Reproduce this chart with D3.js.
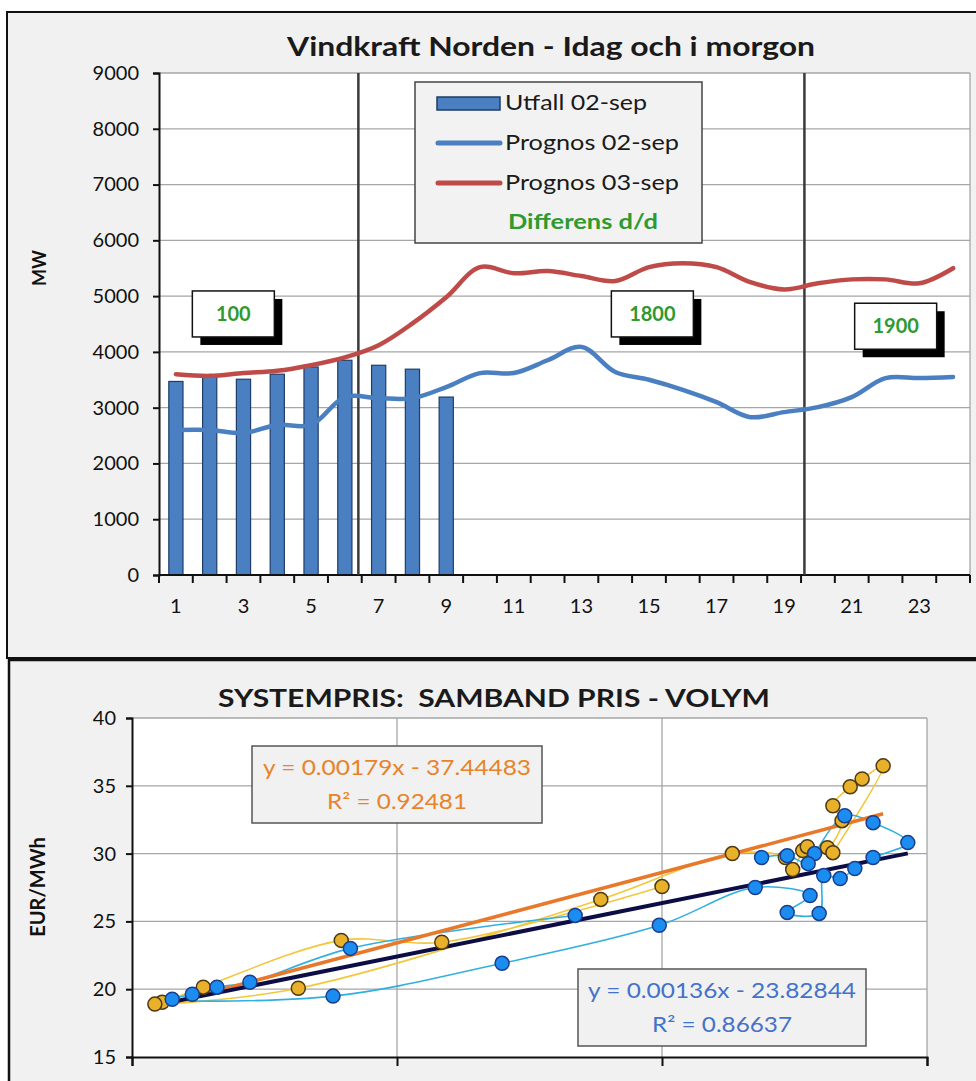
<!DOCTYPE html>
<html><head><meta charset="utf-8">
<script src="https://cdn.jsdelivr.net/npm/d3@7"></script>
<style>
body{margin:0;background:#fff}
svg{display:block}
text{font-family:Lato,"Noto Sans",sans-serif}
</style>
</head><body>
<svg id="c" width="976" height="1081"></svg>
<script>
// ---------- DATA: top chart ----------
const hours = d3.range(1, 25);
const hourTickLabels = [1,3,5,7,9,11,13,15,17,19,21,23];
const mwTicks = [0,1000,2000,3000,4000,5000,6000,7000,8000,9000];
const utfall02 = [3470,3560,3510,3600,3730,3850,3760,3690,3190];
const prognos02 = [2600,2600,2545,2690,2690,3190,3170,3170,3370,3620,3620,3850,4090,3640,3500,3320,3100,2830,2920,3010,3190,3530,3530,3550];
const prognos03 = [3600,3570,3620,3660,3760,3900,4120,4510,4980,5520,5410,5450,5360,5270,5520,5590,5520,5250,5120,5230,5300,5300,5230,5500];
const markerHours = [6.4, 19.6];
const diffTexts = ["100", "1800", "1900"];
const diffHours = [2.7, 15.1, 22.3];
const diffMW = [4680, 4680, 4460];
const legendLabels = ["Utfall 02-sep", "Prognos 02-sep", "Prognos 03-sep", "Differens d/d"];

// ---------- DATA: bottom chart ----------
const priceTicks = [15,20,25,30,35,40];
const volTicks = [31100, 34000, 36900, 39800];
const blueMW    = [35950,33490,32390,32030,31760,31540,33300,35150,36870,37920,38520,38270,38620,38670,38850,39010,39210,39590,39210,38900,38570,38500,38270,37990];
const bluePrice = [25.44,23.01,20.51,20.15,19.63,19.26,19.49,21.91,24.71,27.50,26.91,25.66,25.59,28.38,28.16,28.90,29.71,30.81,32.28,32.79,30.00,29.26,29.85,29.71];
const goldMW    = [36900,34490,33390,31880,31430,31350,32920,36230,37670,38250,38330,38440,38490,38710,38870,38770,38960,39090,39320,38770];
const goldPrice = [27.57,23.46,23.60,20.15,19.04,18.90,20.07,26.62,30.00,29.71,28.82,30.22,30.51,30.44,32.43,33.53,34.93,35.51,36.47,30.07];
const trendBlue = [0.00136, -23.82844, 0.86637];
const trendGold = [0.00179, -37.44483, 0.92481];

// ---------- DRAW ----------
const svg = d3.select("#c");

// frames
svg.append("rect").attr("x",7).attr("y",12).attr("width",1000).attr("height",646)
  .attr("fill","#f1f1f1").attr("stroke","#111").attr("stroke-width",2);
svg.append("rect").attr("x",9).attr("y",660).attr("width",1000).attr("height",460)
  .attr("fill","#f1f1f1").attr("stroke","#111").attr("stroke-width",2.5);

// ===== TOP CHART =====
const T = {l:159, r:970, t:73, b:575};
const xB = d3.scaleBand().domain(hours).range([T.l, T.r]).paddingInner(0).paddingOuter(0);
const xL = d3.scaleLinear().domain([0.5, 24.5]).range([T.l, T.r]);
const yT = d3.scaleLinear().domain([0, 9000]).range([T.b, T.t]);

svg.append("rect").attr("x",T.l).attr("y",T.t).attr("width",T.r-T.l).attr("height",T.b-T.t).attr("fill","#fff");
svg.append("g").selectAll("line").data(mwTicks.slice(1)).join("line")
  .attr("x1",T.l).attr("x2",T.r).attr("y1",d=>yT(d)).attr("y2",d=>yT(d))
  .attr("stroke","#a6a6a6").attr("stroke-width",1.3);
svg.append("line").attr("x1",T.r).attr("x2",T.r).attr("y1",T.t).attr("y2",T.b).attr("stroke","#a6a6a6").attr("stroke-width",1.3);

// title
svg.append("text").attr("x",287).attr("y",56)
  .attr("font-size",27).attr("font-weight","bold").attr("fill","#1a1a1a")
  .attr("textLength",528).attr("lengthAdjust","spacingAndGlyphs")
  .text("Vindkraft Norden - Idag och i morgon");

// y axis
const yAxT = svg.append("g").attr("transform",`translate(${T.l},0)`)
  .call(d3.axisLeft(yT).tickValues(mwTicks).tickSize(6).tickPadding(14).tickFormat(d3.format("d")));
yAxT.select(".domain").attr("stroke","#111").attr("stroke-width",2);
yAxT.selectAll(".tick line").attr("stroke","#111").attr("stroke-width",2);
yAxT.selectAll("text").attr("font-size",20).attr("fill","#111").attr("font-family","Lato");
svg.append("text").attr("transform","translate(46,268) rotate(-90)").attr("text-anchor","middle")
  .attr("font-size",18).attr("font-weight","bold").attr("fill","#111").text("MW");

// bars
svg.append("g").selectAll("rect").data(utfall02).join("rect")
  .attr("x",(d,i)=>xB(hours[i]) + xB.bandwidth()*0.29)
  .attr("width",xB.bandwidth()*0.42)
  .attr("y",d=>yT(d)).attr("height",d=>yT(0)-yT(d))
  .attr("fill","#4a7fc1").attr("stroke","#1f3d66").attr("stroke-width",1.2);

// x axis
const xAxG = svg.append("g").attr("transform",`translate(0,${T.b})`);
xAxG.append("line").attr("x1",T.l).attr("x2",T.r).attr("y1",0).attr("y2",0).attr("stroke","#111").attr("stroke-width",2);
xAxG.selectAll("line.tk").data(d3.range(0.5,25,1)).join("line").attr("class","tk")
  .attr("x1",d=>xL(d)).attr("x2",d=>xL(d)).attr("y1",0).attr("y2",8).attr("stroke","#111").attr("stroke-width",2);
xAxG.selectAll("text").data(hourTickLabels).join("text")
  .attr("x",d=>xB(d)+xB.bandwidth()/2).attr("y",38).attr("text-anchor","middle")
  .attr("font-size",20).attr("fill","#111").text(d=>d);

// marker lines
svg.append("g").selectAll("line").data(markerHours).join("line")
  .attr("x1",d=>xL(d)).attr("x2",d=>xL(d)).attr("y1",T.t).attr("y2",T.b)
  .attr("stroke","#3a3a3a").attr("stroke-width",2.5);

// lines
const lineT = d3.line().x((d,i)=>xB(hours[i])+xB.bandwidth()/2).y(d=>yT(d)).curve(d3.curveCatmullRom.alpha(0.5));
svg.append("path").attr("d",lineT(prognos02)).attr("fill","none").attr("stroke","#4a7fc1").attr("stroke-width",4.5).attr("stroke-linecap","round");
svg.append("path").attr("d",lineT(prognos03)).attr("fill","none").attr("stroke","#bf4b48").attr("stroke-width",4.5).attr("stroke-linecap","round");

// diff label boxes
diffTexts.forEach((t,i)=>{
  const cx = xL(diffHours[i]), cy = yT(diffMW[i]);
  const w = 82, h = 46;
  svg.append("rect").attr("x",cx-w/2+8).attr("y",cy-h/2+8).attr("width",w).attr("height",h).attr("fill","#000");
  svg.append("rect").attr("x",cx-w/2).attr("y",cy-h/2).attr("width",w).attr("height",h).attr("fill","#fff").attr("stroke","#111").attr("stroke-width",1.5);
  svg.append("text").attr("x",cx).attr("y",cy+7).attr("text-anchor","middle").attr("font-size",20).attr("font-weight","bold")
    .attr("fill","#2f9a2f").text(t);
});

// legend
const lg = svg.append("g");
lg.append("rect").attr("x",415).attr("y",82).attr("width",287).attr("height",161).attr("fill","#f2f2f2").attr("stroke","#444").attr("stroke-width",1.5);
lg.append("rect").attr("x",437).attr("y",97).attr("width",63).attr("height",13).attr("fill","#4a7fc1").attr("stroke","#1f3d66").attr("stroke-width",1.5);
lg.append("line").attr("x1",438).attr("x2",500).attr("y1",143).attr("y2",143).attr("stroke","#4a7fc1").attr("stroke-width",5).attr("stroke-linecap","round");
lg.append("line").attr("x1",438).attr("x2",500).attr("y1",183).attr("y2",183).attr("stroke","#bf4b48").attr("stroke-width",5).attr("stroke-linecap","round");
const lgY = [110, 150, 190, 229];
const lgW = [142, 174, 174, 150];
legendLabels.forEach((t,i)=>{
  lg.append("text").attr("x",i===3?508:505).attr("y",lgY[i]).attr("font-size",i===3?20:22)
    .attr("textLength",lgW[i]).attr("lengthAdjust","spacingAndGlyphs")
    .attr("font-weight",i===3?"bold":"normal").attr("fill",i===3?"#2f9a2f":"#1a1a1a").text(t);
});

// ===== BOTTOM CHART =====
const B = {l:132, r:927, t:718, b:1057};
const xS = d3.scaleLinear().domain([volTicks[0], volTicks[volTicks.length-1]]).range([B.l, B.r]);
const yS = d3.scaleLinear().domain([15, 40]).range([B.b, B.t]);

svg.append("rect").attr("x",B.l).attr("y",B.t).attr("width",B.r-B.l).attr("height",B.b-B.t).attr("fill","#fff");
svg.append("g").selectAll("line").data(priceTicks.slice(1)).join("line")
  .attr("x1",B.l).attr("x2",B.r).attr("y1",d=>yS(d)).attr("y2",d=>yS(d)).attr("stroke","#a6a6a6").attr("stroke-width",1.3);
svg.append("g").selectAll("line").data(volTicks.slice(1)).join("line")
  .attr("x1",d=>xS(d)).attr("x2",d=>xS(d)).attr("y1",B.t).attr("y2",B.b).attr("stroke","#a6a6a6").attr("stroke-width",1.3);

svg.append("text").attr("x",218).attr("y",707)
  .attr("font-size",25).attr("font-weight","bold").attr("fill","#1a1a1a")
  .attr("textLength",552).attr("lengthAdjust","spacingAndGlyphs")
  .attr("xml:space","preserve").text("SYSTEMPRIS:  SAMBAND PRIS - VOLYM");

const yAxB = svg.append("g").attr("transform",`translate(${B.l},0)`)
  .call(d3.axisLeft(yS).tickValues(priceTicks).tickSize(6).tickPadding(10));
yAxB.select(".domain").attr("stroke","#111").attr("stroke-width",2);
yAxB.selectAll(".tick line").attr("stroke","#111").attr("stroke-width",2);
yAxB.selectAll("text").attr("font-size",20).attr("fill","#111").attr("font-family","Lato");
svg.append("text").attr("transform","translate(45,887) rotate(-90)").attr("text-anchor","middle")
  .attr("font-size",20).attr("font-weight","bold").attr("fill","#111").text("EUR/MWh");

const xAxB = svg.append("g").attr("transform",`translate(0,${B.b})`)
  .call(d3.axisBottom(xS).tickValues(volTicks).tickSize(9).tickFormat(""));
xAxB.select(".domain").attr("stroke","#111").attr("stroke-width",2);
xAxB.selectAll(".tick line").attr("stroke","#111").attr("stroke-width",2);

// connecting smooth lines
const bluePts = blueMW.map((v,i)=>[v, bluePrice[i]]);
const goldPts = goldMW.map((v,i)=>[v, goldPrice[i]]);
const lineS = d3.line().x(d=>xS(d[0])).y(d=>yS(d[1])).curve(d3.curveCatmullRom.alpha(0.5));
svg.append("path").attr("d",lineS(goldPts)).attr("fill","none").attr("stroke","#f3c73c").attr("stroke-width",1.6);
svg.append("path").attr("d",lineS(bluePts)).attr("fill","none").attr("stroke","#31b0e0").attr("stroke-width",1.6);

// trend lines
function trend(pts, tr){ const ext = d3.extent(pts, d=>d[0]); return ext.map(x=>[x, tr[0]*x + tr[1]]); }
const lineP = d3.line().x(d=>xS(d[0])).y(d=>yS(d[1]));
svg.append("path").attr("d",lineP(trend(goldPts,trendGold))).attr("stroke","#e8782a").attr("stroke-width",3.5).attr("fill","none");
svg.append("path").attr("d",lineP(trend(bluePts,trendBlue))).attr("stroke","#0d0d45").attr("stroke-width",4).attr("fill","none");

// points
svg.append("g").selectAll("circle").data(goldPts).join("circle")
  .attr("cx",d=>xS(d[0])).attr("cy",d=>yS(d[1])).attr("r",7)
  .attr("fill","#e9b129").attr("stroke","#4b3a12").attr("stroke-width",1.5);
svg.append("g").selectAll("circle").data(bluePts).join("circle")
  .attr("cx",d=>xS(d[0])).attr("cy",d=>yS(d[1])).attr("r",7)
  .attr("fill","#1c8df0").attr("stroke","#1b3e8c").attr("stroke-width",1.5);

// equation boxes
function eqBox(x,y,w,h,tr,color,w1,w2){
  svg.append("rect").attr("x",x).attr("y",y).attr("width",w).attr("height",h).attr("fill","#f1f1f1").attr("stroke","#555").attr("stroke-width",1.5);
  svg.append("text").attr("x",x+w/2).attr("y",y+29).attr("text-anchor","middle").attr("font-size",21).attr("fill",color)
    .attr("textLength",w1).attr("lengthAdjust","spacingAndGlyphs")
    .text(`y = ${tr[0].toFixed(5)}x - ${Math.abs(tr[1]).toFixed(5)}`);
  svg.append("text").attr("x",x+w/2).attr("y",y+63).attr("text-anchor","middle").attr("font-size",21).attr("fill",color)
    .attr("textLength",w2).attr("lengthAdjust","spacingAndGlyphs")
    .text(`R² = ${tr[2].toFixed(5)}`);
}
eqBox(252,746,290,77,trendGold,"#e8832a",268,140);
eqBox(578,969,288,77,trendBlue,"#4471c9",268,140);
</script>
</body></html>
